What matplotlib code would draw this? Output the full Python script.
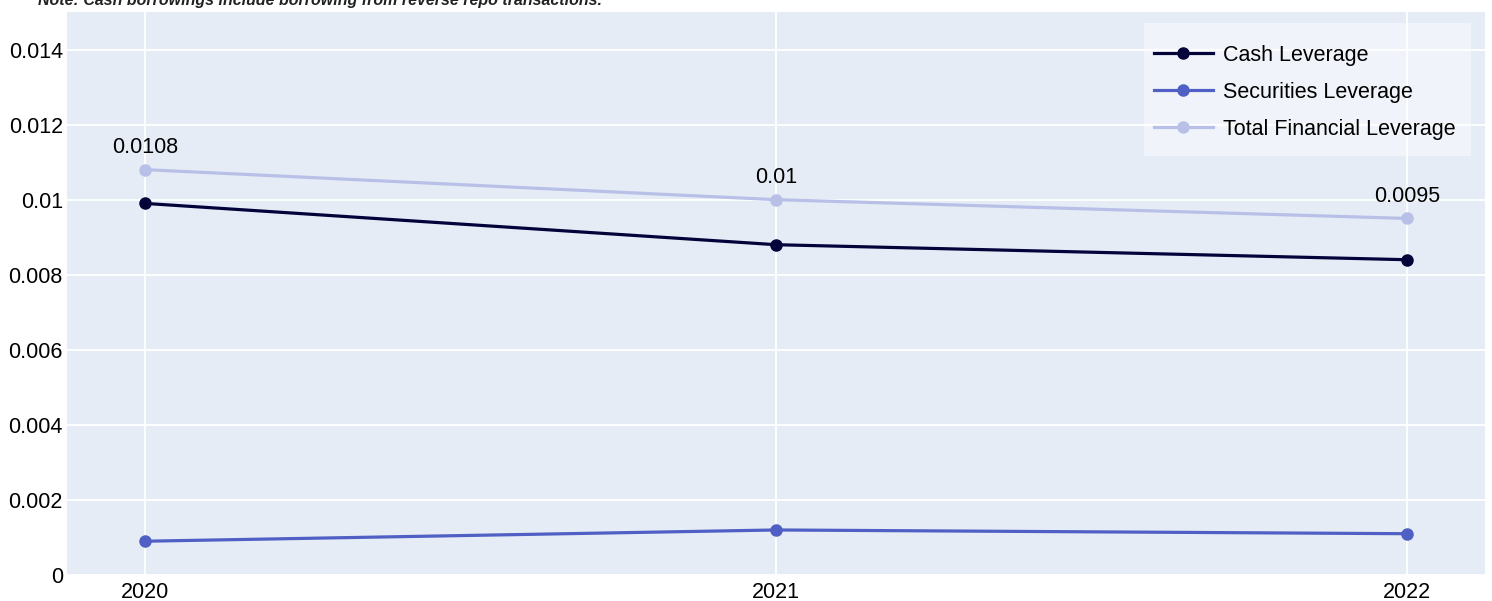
import matplotlib
matplotlib.use('Agg')
import matplotlib.pyplot as plt
from matplotlib.patches import Rectangle

# Data
years = ['2020', '2021', '2022']
cash_leverage = [0.0099, 0.0088, 0.0084]
securities_leverage = [0.0009, 0.0012, 0.0011]
total_leverage = [0.0108, 0.0100, 0.0095]
total_labels = ['0.0108', '0.01', '0.0095']
yticks = [0, 0.002, 0.004, 0.006, 0.008, 0.01, 0.012, 0.014]
ytick_labels = ['0', '0.002', '0.004', '0.006', '0.008', '0.01', '0.012', '0.014']

plt.rcParams['font.family'] = ['Liberation Sans', 'DejaVu Sans']

W, H = 1492, 601
fig = plt.figure(figsize=(W / 100, H / 100), dpi=100)
ax = fig.add_axes([67 / W, 1 - 575 / H, (1485 - 67) / W, (575 - 12) / H])
ax.set_facecolor('#e5ecf6')
for s in ax.spines.values():
    s.set_visible(False)

xs = list(range(len(years)))
series = [
    ('Cash Leverage', cash_leverage, '#03033a'),
    ('Securities Leverage', securities_leverage, '#4f5fc4'),
    ('Total Financial Leverage', total_leverage, '#b8c0e8'),
]
for name, vals, color in series:
    ax.plot(xs, vals, color=color, lw=2.3, marker='o', ms=8, label=name,
            zorder=3)

for x, v, t in zip(xs, total_leverage, total_labels):
    ax.annotate(t, (x, v), xytext=(0, 16), textcoords='offset points',
                ha='center', va='center', fontsize=15.5, color='#000000')

ax.set_xlim(-0.124, 2.124)
ax.set_ylim(0, 0.015)
ax.set_xticks(xs)
ax.set_xticklabels(years)
ax.set_yticks(yticks)
ax.set_yticklabels(ytick_labels)
ax.tick_params(length=0, labelsize=15.5, colors='#000000')
ax.tick_params(axis='y', pad=3)
ax.tick_params(axis='x', pad=5)
ax.grid(True, color='white', lw=1.3)
ax.set_axisbelow(True)

# legend box (plotly style, semi-transparent, drawn separately)
ax.add_patch(Rectangle((1144 / W, 1 - 156 / H), (1471 - 1144) / W,
                       (156 - 23) / H, transform=fig.transFigure,
                       facecolor='white', alpha=0.45, edgecolor='none',
                       zorder=4, clip_on=False))
leg = ax.legend(loc='upper left', bbox_to_anchor=((1144 - 67) / 1418,
                                                  (575 - 35) / 563),
                borderaxespad=0, fontsize=15.5, frameon=False,
                borderpad=0.45, labelspacing=0.75, handlelength=2.75,
                handletextpad=0.45)
leg.set_zorder(5)

fig.text(38 / W, 1 - 5 / H,
         'Note: Cash borrowings include borrowing from reverse repo transactions.',
         fontsize=11.5, fontweight='bold', fontstyle='italic', va='baseline',
         ha='left', color='#222222')

fig.savefig('out.png', dpi=100)
